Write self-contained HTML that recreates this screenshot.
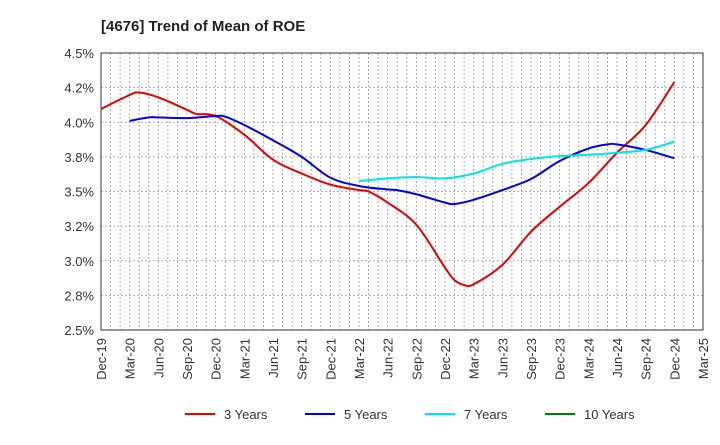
<!DOCTYPE html>
<html><head><meta charset="utf-8"><style>
body{margin:0;background:#fff;font-family:"Liberation Sans",sans-serif}
</style></head><body>
<svg id="c" width="720" height="440" xmlns="http://www.w3.org/2000/svg">
<text x="101" y="31" font-size="15" font-weight="bold" fill="#222">[4676]  Trend of Mean of ROE</text>
<g id="grid"></g><g id="axes"></g><g id="series"></g><g id="legend"></g>
</svg>
<script>
const xLabels=["Dec-19","Mar-20","Jun-20","Sep-20","Dec-20","Mar-21","Jun-21","Sep-21","Dec-21","Mar-22","Jun-22","Sep-22","Dec-22","Mar-23","Jun-23","Sep-23","Dec-23","Mar-24","Jun-24","Sep-24","Dec-24","Mar-25"];
const yTicks=[2.5,2.75,3.0,3.25,3.5,3.75,4.0,4.25,4.5];
const yTickLabels=["2.5%","2.8%","3.0%","3.2%","3.5%","3.8%","4.0%","4.2%","4.5%"];
const m3=[0,3,4,6,9,10,12,15,18,21,24,27,28,30,33,36,37,38,39,42,45,48,51,54,57,60];
const v3=[4.096,4.197,4.215,4.18,4.09,4.06,4.045,3.91,3.73,3.63,3.55,3.51,3.50,3.42,3.26,2.95,2.86,2.825,2.83,2.97,3.21,3.39,3.56,3.78,3.98,4.29];
const m5=[3,5,6,9,12,13,15,18,21,24,27,30,31,33,36,37,39,42,45,48,51,53,54,57,60];
const v5=[4.01,4.035,4.035,4.03,4.045,4.04,3.98,3.87,3.75,3.60,3.54,3.515,3.51,3.48,3.42,3.41,3.44,3.51,3.59,3.72,3.81,3.84,3.84,3.80,3.74];
const m7=[27,30,33,36,39,42,45,48,51,54,57,60];
const v7=[3.575,3.595,3.605,3.595,3.63,3.70,3.735,3.755,3.765,3.78,3.80,3.86];
const L=101,R=703,T=53,B=330,NM=63;
const X=m=>L+(R-L)*m/NM, Y=v=>B-(B-T)*(v-2.5)/2;
const NS="http://www.w3.org/2000/svg";
function mk(p,t,a){const e=document.createElementNS(NS,t);for(const k in a)e.setAttribute(k,a[k]);p.appendChild(e);return e;}
const grid=document.getElementById('grid'),axes=document.getElementById('axes'),ser=document.getElementById('series'),leg=document.getElementById('legend');
for(let m=1;m<NM;m++){const l=mk(grid,'line',{x1:X(m),x2:X(m),y1:T,y2:B,stroke:'#999','stroke-dasharray':'2,2','stroke-width':0.8});

}
yTicks.forEach((v,i)=>{if(i>0&&i<yTicks.length-1){const l=mk(grid,'line',{x1:L,x2:R,y1:Y(v),y2:Y(v),stroke:'#999','stroke-dasharray':'2,2','stroke-width':0.8});

}
const t=mk(axes,'text',{x:L-7,y:Y(v)+5,'text-anchor':'end','font-size':13,fill:'#333'});t.textContent=yTickLabels[i];

});
const fr=mk(axes,'rect',{x:L,y:T,width:R-L,height:B-T,fill:'none',stroke:'#333','stroke-width':1});


xLabels.forEach((s,i)=>{const x=X(i*3);const t=mk(axes,'text',{x:x+5,y:B+8,'text-anchor':'end','font-size':13,fill:'#333',transform:`rotate(-90 ${x+5} ${B+8})`});t.textContent=s;

});
function path(ms,vs){const p=ms.map((m,i)=>[X(m),Y(vs[i])]);let d=`M${p[0][0]},${p[0][1]}`;
for(let i=0;i<p.length-1;i++){const p0=p[i-1]||p[i],p1=p[i],p2=p[i+1],p3=p[i+2]||p2;
d+=` C${p1[0]+(p2[0]-p0[0])/6},${p1[1]+(p2[1]-p0[1])/6} ${p2[0]-(p3[0]-p1[0])/6},${p2[1]-(p3[1]-p1[1])/6} ${p2[0]},${p2[1]}`;}return d;}
[[m3,v3,'#e60000','line-3-years'],[m5,v5,'#0000e6','line-5-years'],[m7,v7,'#00e6e6','line-7-years']].forEach(s=>{
const e=mk(ser,'path',{d:path(s[0],s[1]),fill:'none',stroke:s[2],'stroke-width':2});

});
[['3 Years','#e60000',185],['5 Years','#0000e6',305],['7 Years','#00e6e6',425],['10 Years','#008000',545]].forEach(l=>{
const g=mk(leg,'g',{});


mk(g,'line',{x1:l[2],x2:l[2]+30,y1:414,y2:414,stroke:l[1],'stroke-width':2});
const t=mk(g,'text',{x:l[2]+39,y:419,'font-size':13,fill:'#333'});t.textContent=l[0];});
</script>
</body></html>
